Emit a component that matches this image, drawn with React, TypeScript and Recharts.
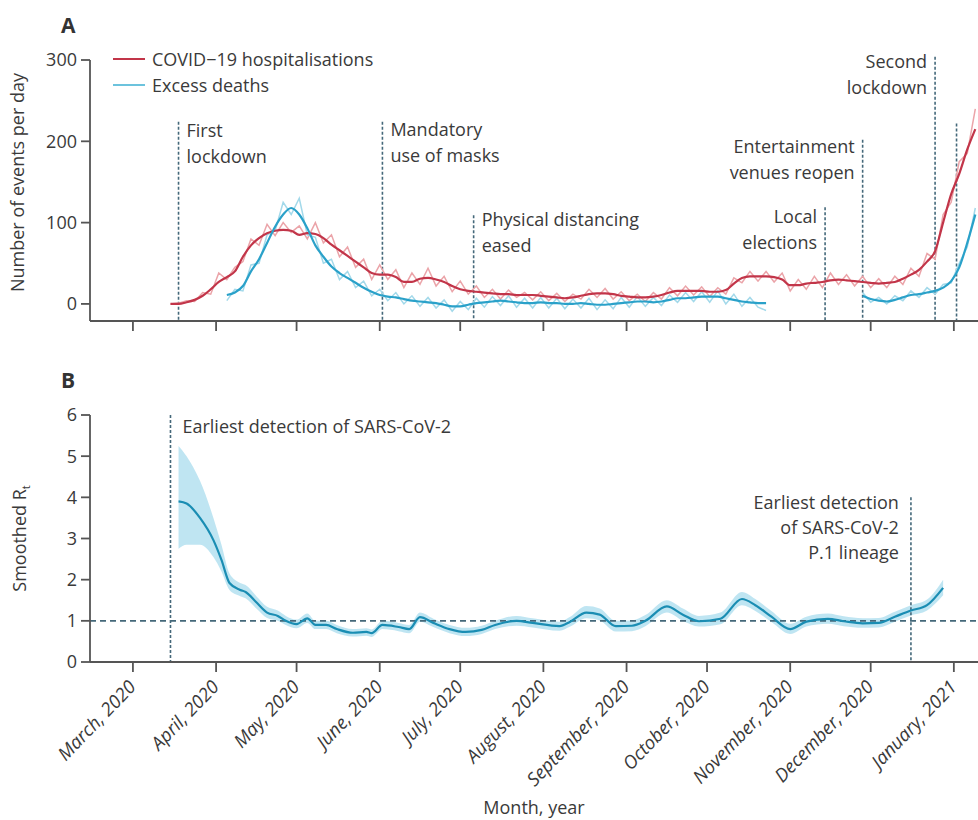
import React from "react";
import {
	Area,
	ComposedChart,
	Legend,
	Line,
	LineChart,
	ReferenceLine,
	XAxis,
	YAxis,
} from "recharts";

// days are counted from 1 March 2020
const monthTicks = [0, 31, 61, 92, 122, 153, 184, 214, 245, 275, 306];
const monthLabels = [
	"March, 2020",
	"April, 2020",
	"May, 2020",
	"June, 2020",
	"July, 2020",
	"August, 2020",
	"September, 2020",
	"October, 2020",
	"November, 2020",
	"December, 2020",
	"January, 2021",
];

// panel A, sampled every 3 days from day 14
const hospFirstDay = 14;
const hospSmooth = [
	0, 0, 2, 5, 10, 18, 27, 33, 40, 58,
	72, 81, 87, 90, 91, 90, 85, 87, 86, 81,
	73, 66, 59, 52, 45, 38, 36, 36, 33, 27,
	27, 31, 32, 30, 27, 22, 18, 16, 15, 14,
	13, 12, 12, 11, 11, 11, 10, 9, 8, 7,
	8, 10, 12, 13, 13, 12, 10, 9, 8, 8,
	9, 11, 14, 16, 16, 16, 16, 15, 15, 17,
	25, 32, 34, 34, 34, 33, 30, 23, 23, 25,
	26, 27, 29, 30, 29, 28, 27, 26, 25, 26,
	27, 31, 36, 42, 52, 65, 100, 135, 160, 190,
	215,
];
const hospRaw = [
	0, 1, 4, 3, 14, 12, 38, 30, 45, 52,
	80, 72, 98, 84, 100, 88, 96, 80, 100, 75,
	85, 58, 70, 45, 55, 30, 48, 30, 42, 20,
	38, 24, 44, 22, 34, 15, 28, 12, 22, 8,
	18, 6, 17, 8, 14, 5, 15, 4, 13, 3,
	12, 6, 18, 8, 19, 6, 15, 4, 12, 3,
	14, 6, 20, 10, 22, 11, 21, 9, 20, 12,
	32, 26, 40, 28, 40, 27, 38, 16, 30, 18,
	34, 20, 38, 24, 36, 22, 34, 20, 31, 20,
	34, 24, 44, 34, 62, 55, 110, 125, 175, 185,
	240,
];

const deathsEarlyFirstDay = 35;
const deathsEarlySmooth = [
	11, 14, 22, 40, 55, 75, 95, 110, 118, 110,
	93, 72, 58, 46, 38, 32, 26, 20, 15, 11,
	9, 8, 6, 4, 3, 2, 1, -1, -3, -3,
	-1, 1, 2, 3, 4, 3, 2, 1, 1, 2,
	1, 1, 0, 0, 1, 0, -1, -1, 0, 1,
	2, 3, 3, 2, 3, 5, 7, 7, 8, 9,
	9, 9, 7, 5, 3, 2, 1, 1,
];
const deathsEarlyRaw = [
	4, 18, 16, 48, 50, 85, 90, 125, 110, 130,
	85, 82, 50, 55, 30, 40, 20, 28, 10, 18,
	4, 14, 0, 10, -3, 8, -5, 5, -9, 3,
	-7, 7, -4, 9, -2, 10, -4, 7, -5, 8,
	-5, 7, -6, 6, -5, 7, -7, 5, -6, 8,
	-4, 9, -3, 8, -2, 11, 2, 14, 3, 15,
	2, 16, 0, 12, -3, 8, -4, -8,
];
const deathsLateFirstDay = 272;
const deathsLateSmooth = [10, 6, 4, 3, 5, 8, 11, 12, 14, 16, 20, 28, 45, 75, 110];
const deathsLateRaw = [14, 2, 8, 0, 10, 4, 16, 8, 20, 12, 24, 26, 50, 70, 118];

const eventsA = [
	{ day: 17, text: ["First", "lockdown"] },
	{ day: 93, text: ["Mandatory", "use of masks"] },
	{ day: 127, text: ["Physical distancing", "eased"] },
	{ day: 258, text: ["Local", "elections"] },
	{ day: 272, text: ["Entertainment", "venues reopen"] },
	{ day: 299, text: ["Second", "lockdown"] },
	{ day: 307, text: [] as string[] },
];

// panel B
const rtDays = [
	17, 20, 25, 30, 33, 36, 40, 42, 46, 50, 54, 57, 61, 65, 68, 72, 76, 82, 87,
	89, 93, 99, 103, 107, 112, 118, 124, 130, 135, 143, 149, 159, 163, 169, 174,
	180, 186, 191, 199, 205, 211, 219, 227, 232, 238, 245, 251, 259, 265, 272,
	278, 284, 290, 296, 302,
];
const rtMid = [
	3.9, 3.85, 3.5, 2.96, 2.48, 1.92, 1.75, 1.7, 1.45, 1.2, 1.12, 1.0, 0.92, 1.06,
	0.9, 0.9, 0.8, 0.71, 0.73, 0.7, 0.9, 0.85, 0.8, 1.09, 0.95, 0.8, 0.73, 0.78,
	0.9, 1.0, 0.95, 0.87, 0.98, 1.2, 1.15, 0.87, 0.88, 1.0, 1.35, 1.15, 0.99,
	1.05, 1.53, 1.38, 1.1, 0.8, 0.98, 1.05, 0.99, 0.94, 0.95, 1.1, 1.25, 1.38,
	1.8,
];
const rtLow = [
	2.75, 2.85, 2.85, 2.55, 2.2, 1.75, 1.6, 1.55, 1.3, 1.07, 1.0, 0.9, 0.82, 0.95,
	0.8, 0.8, 0.7, 0.62, 0.64, 0.61, 0.8, 0.75, 0.7, 0.98, 0.85, 0.7, 0.63, 0.68,
	0.8, 0.88, 0.84, 0.76, 0.86, 1.06, 1.01, 0.74, 0.75, 0.87, 1.2, 1.0, 0.86,
	0.92, 1.38, 1.24, 0.97, 0.68, 0.86, 0.93, 0.87, 0.83, 0.84, 0.98, 1.13, 1.25,
	1.62,
];
const rtHigh = [
	5.25, 5.0, 4.4, 3.5, 2.85, 2.15, 1.92, 1.87, 1.6, 1.34, 1.25, 1.12, 1.03,
	1.18, 1.0, 1.0, 0.9, 0.8, 0.82, 0.79, 1.0, 0.95, 0.9, 1.2, 1.05, 0.9, 0.83,
	0.88, 1.0, 1.12, 1.06, 0.98, 1.1, 1.36, 1.3, 1.0, 1.01, 1.14, 1.5, 1.3, 1.12,
	1.2, 1.7, 1.53, 1.24, 0.93, 1.1, 1.18, 1.11, 1.06, 1.07, 1.22, 1.38, 1.52,
	2.0,
];

const eventsB = [
	{ day: 14, text: ["Earliest detection of SARS-CoV-2"] },
	{ day: 290, text: ["Earliest detection", "of SARS-CoV-2", "P.1 lineage"] },
];

const RED = "#c23549";
const RED_RAW = "#eba4a9";
const BLUE = "#2aa1c9";
const BLUE_RAW = "#a3d9ea";
const RT_LINE = "#1a8db3";
const RT_BAND = "#b4e1f0";
const DASH = "#44687a";
const AXIS = "#555";
const TEXT = "#3a3a3a";
const FONT = "'Open Sans', Lato, sans-serif";
const FS = 18;

const panelAData = hospSmooth.map((v, i) => {
	const day = hospFirstDay + i * 3;
	const e = (day - deathsEarlyFirstDay) / 3;
	const l = (day - deathsLateFirstDay) / 3;
	let deaths: number | null = null;
	let deathsRaw: number | null = null;
	if (e >= 0 && e < deathsEarlySmooth.length) {
		deaths = deathsEarlySmooth[e];
		deathsRaw = deathsEarlyRaw[e];
	} else if (l >= 0 && l < deathsLateSmooth.length) {
		deaths = deathsLateSmooth[l];
		deathsRaw = deathsLateRaw[l];
	}
	return { day, hosp: v, hospRaw: hospRaw[i], deaths, deathsRaw };
});

const panelBData = rtDays.map((day, i) => ({
	day,
	rt: rtMid[i],
	band: [rtLow[i], rtHigh[i]],
}));

// where each annotation line starts (in y units) and how its text sits
const eventTopsA = [224, 224, 109, 119, 202, 304, 222];
const eventTextA = [
	{ side: "right", dy: 15 },
	{ side: "right", dy: 14 },
	{ side: "right", dy: 11 },
	{ side: "left", dy: 16 },
	{ side: "left", dy: 13 },
	{ side: "left", dy: 11 },
	{ side: "left", dy: 0 },
];
const eventTopsB = [6, 4];
const eventTextB = [
	{ side: "right", dy: 18 },
	{ side: "left", dy: 12 },
];

const makeEventLabel =
	(lines: string[], side: string, dy: number, gap: number, lineH: number) =>
	(props: any) => {
		const vb = props.viewBox || {};
		if (!lines.length || vb.x == null) return null;
		const x = side === "right" ? vb.x + gap : vb.x - gap;
		return (
			<text
				x={x}
				y={vb.y + dy}
				textAnchor={side === "right" ? "start" : "end"}
				fontSize={FS}
				fill={TEXT}
				fontFamily={FONT}
			>
				{lines.map((t, i) => (
					<tspan key={i} x={x} dy={i === 0 ? 0 : lineH}>
						{t}
					</tspan>
				))}
			</text>
		);
	};

const MonthTick = (props: any) => {
	const { x, y, payload } = props;
	const idx = monthTicks.indexOf(payload.value);
	const tx = x + 4;
	const ty = y + 14;
	return (
		<text
			x={tx}
			y={ty}
			transform={`rotate(-46 ${tx} ${ty})`}
			textAnchor="end"
			fontSize={18.5}
			fontStyle="italic"
			fill={TEXT}
			fontFamily={FONT}
		>
			{monthLabels[idx]}
		</text>
	);
};

const legendItems = [
	{ label: "COVID\u221219 hospitalisations", color: RED },
	{ label: "Excess deaths", color: "#6cc3dd" },
];

const LegendBox = () => (
	<div style={{ fontFamily: FONT, fontSize: FS, color: TEXT }}>
		{legendItems.map((it) => (
			<div
				key={it.label}
				style={{ display: "flex", alignItems: "center", height: 26 }}
			>
				<span
					style={{
						display: "inline-block",
						width: 32,
						height: 2,
						background: it.color,
						marginRight: 7,
					}}
				/>
				{it.label}
			</div>
		))}
	</div>
);

const tickStyle = { fill: TEXT, fontSize: FS, fontFamily: FONT };

export default function App() {
	return (
		<div
			style={{
				position: "absolute",
				left: 0,
				top: 0,
				width: 978,
				height: 820,
				background: "#fff",
				fontFamily: FONT,
			}}
		>
			<div
				style={{
					position: "absolute",
					left: 61,
					top: 11,
					fontSize: 21,
					fontWeight: 700,
					color: "#333",
				}}
			>
				A
			</div>
			<div
				style={{
					position: "absolute",
					left: 61,
					top: 366,
					fontSize: 21,
					fontWeight: 700,
					color: "#333",
				}}
			>
				B
			</div>

			<div style={{ position: "absolute", left: 0, top: 0 }}>
				<LineChart
					width={978}
					height={340}
					data={panelAData}
					margin={{ top: 60, right: 0, bottom: 0, left: 0 }}
				>
					<XAxis
						dataKey="day"
						type="number"
						domain={[-16, 315]}
						allowDataOverflow
						ticks={monthTicks}
						tickFormatter={() => ""}
						tickSize={10}
						height={19}
						stroke={AXIS}
						strokeWidth={1.8}
					/>
					<YAxis
						type="number"
						domain={[-21, 300]}
						allowDataOverflow
						ticks={[0, 100, 200, 300]}
						width={90}
						tickSize={9}
						tickMargin={4}
						tick={tickStyle}
						stroke={AXIS}
						strokeWidth={1.8}
						label={{
							content: (p: any) => {
								const vb = p.viewBox;
								const cx = 24;
								const cy = vb.y + vb.height / 2 - 8;
								return (
									<text
										x={cx}
										y={cy}
										transform={`rotate(-90 ${cx} ${cy})`}
										textAnchor="middle"
										fontSize={FS}
										fill={TEXT}
										fontFamily={FONT}
									>
										Number of events per day
									</text>
								);
							},
						}}
					/>
					<Legend
						layout="vertical"
						align="center"
						verticalAlign="middle"
						wrapperStyle={{ left: 113, top: 46, width: 320 }}
						content={() => <LegendBox />}
					/>
					{eventsA.map((ev, i) => (
						<ReferenceLine
							key={ev.day}
							segment={[
								{ x: ev.day, y: eventTopsA[i] },
								{ x: ev.day, y: -21 },
							]}
							ifOverflow="visible"
							stroke={DASH}
							strokeWidth={1.6}
							strokeDasharray="3 2"
							label={{
								content: makeEventLabel(
									ev.text,
									eventTextA[i].side,
									eventTextA[i].dy,
									8,
									26,
								),
							}}
						/>
					))}
					<Line
						dataKey="hospRaw"
						type="linear"
						stroke={RED_RAW}
						strokeWidth={1.5}
						dot={false}
						isAnimationActive={false}
					/>
					<Line
						dataKey="deathsRaw"
						type="linear"
						stroke={BLUE_RAW}
						strokeWidth={1.5}
						dot={false}
						connectNulls={false}
						isAnimationActive={false}
					/>
					<Line
						dataKey="hosp"
						type="monotone"
						stroke={RED}
						strokeWidth={2.2}
						dot={false}
						isAnimationActive={false}
					/>
					<Line
						dataKey="deaths"
						type="monotone"
						stroke={BLUE}
						strokeWidth={2.2}
						dot={false}
						connectNulls={false}
						isAnimationActive={false}
					/>
				</LineChart>
			</div>

			<div style={{ position: "absolute", left: 0, top: 340 }}>
				<ComposedChart
					width={978}
					height={480}
					data={panelBData}
					margin={{ top: 75, right: 0, bottom: 0, left: 0 }}
				>
					<XAxis
						dataKey="day"
						type="number"
						domain={[-16, 315]}
						allowDataOverflow
						ticks={monthTicks}
						tick={<MonthTick />}
						tickSize={10}
						height={158}
						stroke={AXIS}
						strokeWidth={1.8}
						label={{
							value: "Month, year",
							position: "insideBottom",
							offset: 6,
							fontSize: FS,
							fill: TEXT,
							fontFamily: FONT,
						}}
					/>
					<YAxis
						type="number"
						domain={[0, 6]}
						ticks={[0, 1, 2, 3, 4, 5, 6]}
						width={90}
						tickSize={9}
						tickMargin={4}
						tick={tickStyle}
						stroke={AXIS}
						strokeWidth={1.8}
						label={{
							content: (p: any) => {
								const vb = p.viewBox;
								const cx = 26;
								const cy = vb.y + vb.height / 2;
								return (
									<text
										x={cx}
										y={cy}
										transform={`rotate(-90 ${cx} ${cy})`}
										textAnchor="middle"
										fontSize={FS}
										fill={TEXT}
										fontFamily={FONT}
									>
										Smoothed R
										<tspan fontSize={11} dy={4}>
											t
										</tspan>
									</text>
								);
							},
						}}
					/>
					<ReferenceLine
						y={1}
						stroke={DASH}
						strokeWidth={1.6}
						strokeDasharray="6 4"
					/>
					{eventsB.map((ev, i) => (
						<ReferenceLine
							key={ev.day}
							segment={[
								{ x: ev.day, y: eventTopsB[i] },
								{ x: ev.day, y: 0 },
							]}
							ifOverflow="visible"
							stroke={DASH}
							strokeWidth={1.6}
							strokeDasharray="3 2"
							label={{
								content: makeEventLabel(
									ev.text,
									eventTextB[i].side,
									eventTextB[i].dy,
									12,
									25,
								),
							}}
						/>
					))}
					<Area
						dataKey="band"
						type="monotone"
						stroke="none"
						fill={RT_BAND}
						fillOpacity={0.85}
						isAnimationActive={false}
					/>
					<Line
						dataKey="rt"
						type="monotone"
						stroke={RT_LINE}
						strokeWidth={2.2}
						dot={false}
						isAnimationActive={false}
					/>
				</ComposedChart>
			</div>
		</div>
	);
}
